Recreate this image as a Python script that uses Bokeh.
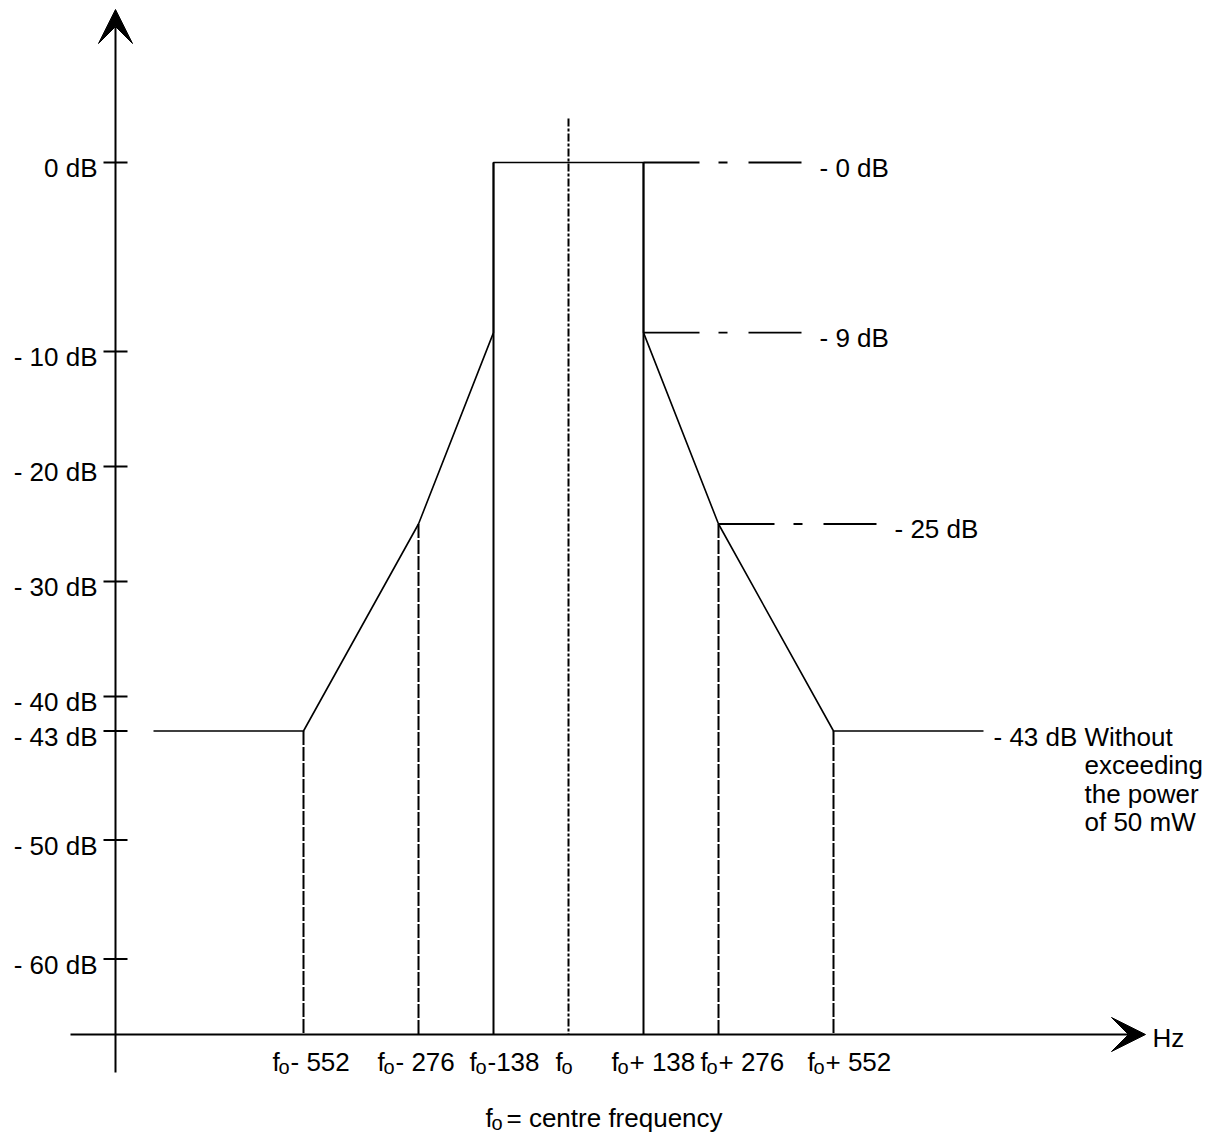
import numpy as np
from bokeh.plotting import figure
from bokeh.models import Range1d, Arrow, VeeHead
from bokeh.core.properties import value
from bokeh.embed import file_html
from bokeh.resources import INLINE

# ---------------- data ----------------
TICK_HZ = [-552, -276, -138, 0, 138, 276, 552]
TICK_SUFFIX = ["- 552", "- 276", "-138", "", "+ 138", "+ 276", "+ 552"]
DB_TICKS = [0, -10, -20, -30, -40, -43, -50, -60]
DB_TICK_LABELS = ["0 dB", "- 10 dB", "- 20 dB", "- 30 dB", "- 40 dB",
                  "- 43 dB", "- 50 dB", "- 60 dB"]
MASK_HZ = [-828, -552, -276, -138, -138, 138, 138, 276, 552, 828]
MASK_DB = [-43, -43, -25, -9, 0, 0, -9, -25, -43, -43]
MARK_HZ = [-552, -276, -138, 138, 276, 552]
MARK_TOP_DB = [-43, -25, 0, 0, -25, -43]
MARK_DASHED = [True, True, False, False, True, True]
LEVEL_DB = [0, -9, -25]
LEVEL_FROM_HZ = [138, 138, 276]
LEVEL_LABELS = ["- 0 dB", "- 9 dB", "- 25 dB"]
FLOOR_DB = -43
FLOOR_LABEL = "- 43 dB"
FLOOR_NOTE = ["Without", "exceeding", "the power", "of 50 mW"]
AXIS_X_LABEL = "Hz"
NOTE_SUFFIX = "= centre frequency"

# ---------------- diagram scale (non-uniform, as drawn) ----------------
KX = 150 / 276.0        # px per diagram unit (x)
KY = 11.5               # px per diagram unit (y)
X_KNOTS = [0, 276, 552]
X_STRETCH = [1.0, 115 / 150, 1.0]
Y_KNOTS = [0, 10, 43, 50]
Y_STRETCH = [189 / 115, 1.0, 109 / 80.5, 119 / 115]


def piecewise(a, knots, stretch):
    a = np.asarray(a, float)
    out = np.zeros_like(a)
    for i, k0 in enumerate(knots):
        k1 = knots[i + 1] if i + 1 < len(knots) else np.inf
        out += np.clip(a - k0, 0, k1 - k0) * stretch[i]
    return out


def fx(hz):
    hz = np.asarray(hz, float)
    return np.sign(hz) * piecewise(np.abs(hz), X_KNOTS, X_STRETCH)


def fy(db):
    db = np.asarray(db, float)
    return -piecewise(-db, Y_KNOTS, Y_STRETCH)


# picture layout
W, H = 1205, 1137
X0, Y0 = 568, 162      # picture position of f0 / 0 dB


def U(X):
    return (X - X0) / KX


def V(Y):
    return (Y0 - Y) / KY


def dxp(px):
    return px / KX


def dyp(px):
    return px / KY


p = figure(width=W, height=H, output_backend="svg", toolbar_location=None,
           x_range=Range1d(U(0), U(W)),
           y_range=Range1d(V(H), V(0)),
           x_axis_type=None, y_axis_type=None, min_border=0, title=None)
p.grid.visible = False
p.outline_line_color = None
p.background_fill_color = "white"
p.border_fill_color = "white"

FONT = value("Liberation Sans")
FS = value("26px")
FS_SUB = value("20px")

# axes with arrows
YAX_U = U(115)
XAX_V = V(1034)
p.add_layout(Arrow(end=VeeHead(size=34, fill_color="black", line_color="black", line_width=1),
                   x_start=YAX_U, y_start=V(1072), x_end=YAX_U, y_end=V(9),
                   line_width=2, line_color="black"))
p.add_layout(Arrow(end=VeeHead(size=34, fill_color="black", line_color="black", line_width=1),
                   x_start=U(70), y_start=XAX_V, x_end=U(1145), y_end=XAX_V,
                   line_width=2, line_color="black"))

# y ticks & labels
ty = fy(DB_TICKS)
p.segment(x0=[YAX_U - dxp(12)] * len(ty), y0=ty, x1=[YAX_U + dxp(12)] * len(ty), y1=ty,
          line_color="black", line_width=2)
p.text(x=[U(97)] * len(ty), y=ty - dyp(5.5), text=DB_TICK_LABELS,
       text_font=FONT, text_font_size=FS, text_align="right",
       text_baseline="alphabetic", text_color="black")

# marker verticals
for hz, top, dashed in zip(MARK_HZ, MARK_TOP_DB, MARK_DASHED):
    xx = float(fx(hz))
    p.segment(x0=[xx], y0=[float(fy(top))], x1=[xx], y1=[XAX_V],
              line_color="black", line_width=2,
              line_dash="14 2" if dashed else "solid")
# centre line
p.segment(x0=[float(fx(0))], y0=[V(118)], x1=[float(fx(0))], y1=[XAX_V],
          line_color="black", line_width=2, line_dash="8 2 3 2")

# mask
p.line(fx(MASK_HZ), fy(MASK_DB), line_color="black", line_width=1.6)

# level annotation lines
LEN = dxp(158)
lx0 = fx(LEVEL_FROM_HZ)
ly = fy(LEVEL_DB)
p.segment(x0=lx0, y0=ly, x1=lx0 + LEN, y1=ly, line_color="black",
          line_width=1.8, line_dash="56 19 9 21")
p.text(x=lx0 + LEN + dxp(18), y=ly - dyp(5), text=LEVEL_LABELS,
       text_font=FONT, text_font_size=FS, text_align="left",
       text_baseline="alphabetic", text_color="black")

# floor label and note
fend = float(fx(max(MASK_HZ)))
fyv = float(fy(FLOOR_DB))
p.text(x=[fend + dxp(10)], y=[fyv - dyp(6)], text=[FLOOR_LABEL],
       text_font=FONT, text_font_size=FS, text_align="left",
       text_baseline="alphabetic", text_color="black")
p.text(x=[fend + dxp(101)] * len(FLOOR_NOTE),
       y=[fyv - dyp(6 + 28.4 * i) for i in range(len(FLOOR_NOTE))],
       text=FLOOR_NOTE, text_font=FONT, text_font_size=FS, text_align="left",
       text_baseline="alphabetic", text_color="black")

# x tick labels: f + subscript o + suffix
LABEL_SHIFT_PX = [-31, -41, -24, -13, -32, -18, -26]
tx = fx(TICK_HZ) + np.array([dxp(s) for s in LABEL_SHIFT_PX])
base = V(1061)
n = len(tx)
p.text(x=tx, y=[base] * n, text=["f"] * n, text_font=FONT, text_font_size=FS,
       text_align="left", text_baseline="alphabetic", text_color="black")
p.text(x=tx + dxp(6), y=[base - dyp(5.5)] * n, text=["o"] * n, text_font=FONT,
       text_font_size=FS_SUB, text_align="left", text_baseline="alphabetic",
       text_color="black")
p.text(x=tx + dxp(18), y=[base] * n, text=TICK_SUFFIX, text_font=FONT,
       text_font_size=FS, text_align="left", text_baseline="alphabetic",
       text_color="black")

# axis unit label
p.text(x=[U(1152)], y=[V(1037)], text=[AXIS_X_LABEL], text_font=FONT,
       text_font_size=FS, text_align="left", text_baseline="alphabetic",
       text_color="black")

# bottom note
nb = V(1117)
p.text(x=[U(485)], y=[nb], text=["f"], text_font=FONT, text_font_size=FS,
       text_align="left", text_baseline="alphabetic", text_color="black")
p.text(x=[U(491)], y=[nb - dyp(5)], text=["o"], text_font=FONT,
       text_font_size=FS_SUB, text_align="left", text_baseline="alphabetic",
       text_color="black")
p.text(x=[U(506)], y=[nb], text=[NOTE_SUFFIX], text_font=FONT,
       text_font_size=FS, text_align="left", text_baseline="alphabetic",
       text_color="black")

open("out.html", "w").write(file_html(p, INLINE))
